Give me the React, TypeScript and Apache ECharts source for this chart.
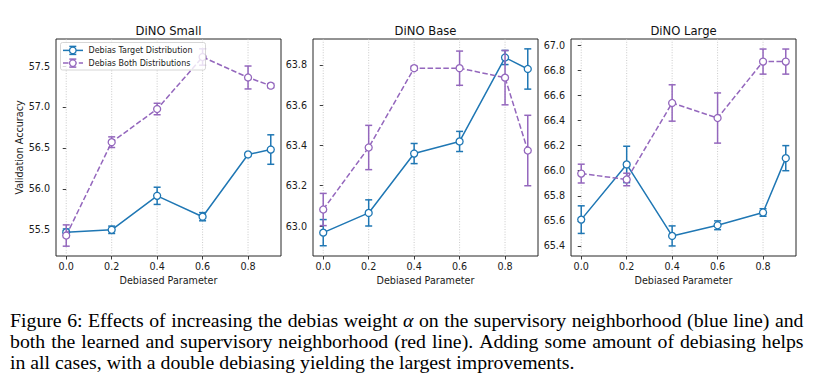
import React, { useEffect, useRef } from 'react';
import * as echarts from 'echarts';

// ---------- data ----------
const xValues = [0.0, 0.2, 0.4, 0.6, 0.8, 0.9];
const xTicks = [0, 0.2, 0.4, 0.6, 0.8];

const panelTitles = ['DiNO Small', 'DiNO Base', 'DiNO Large'];

const smallTarget = [55.47, 55.5, 55.915, 55.66, 56.42, 56.48];
const smallTargetErr = [0.04, 0.045, 0.105, 0.05, 0.01, 0.18];
const smallBoth = [55.43, 56.57, 56.975, 57.61, 57.36, 57.26];
const smallBothErr = [0.13, 0.065, 0.07, 0.1, 0.14, 0.025];

const baseTarget = [62.967, 63.065, 63.36, 63.42, 63.837, 63.78];
const baseTargetErr = [0.065, 0.065, 0.05, 0.05, 0.035, 0.1];
const baseBoth = [63.082, 63.39, 63.784, 63.784, 63.737, 63.375];
const baseBothErr = [0.08, 0.11, 0.01, 0.085, 0.135, 0.175];

const largeTarget = [65.61, 66.05, 65.48, 65.565, 65.667, 66.1];
const largeTargetErr = [0.11, 0.145, 0.08, 0.035, 0.03, 0.1];
const largeBoth = [65.977, 65.93, 66.54, 66.42, 66.87, 66.87];
const largeBothErr = [0.075, 0.05, 0.145, 0.2, 0.1, 0.1];

const smallYTicks = [55.5, 56.0, 56.5, 57.0, 57.5];
const baseYTicks = [63.0, 63.2, 63.4, 63.6, 63.8];
const largeYTicks = [65.4, 65.6, 65.8, 66.0, 66.2, 66.4, 66.6, 66.8, 67.0];

const yMins = [55.18, 62.851, 65.32];
const yMaxs = [57.83, 63.929, 67.05];
const xMin = -0.045;
const xMax = 0.945;

const seriesNames = ['Debias Target Distribution', 'Debias Both Distributions'];

const captionLines = [
  'Figure 6: Effects of increasing the debias weight α on the supervisory neighborhood (blue line) and',
  'both the learned and supervisory neighborhood (red line).  Adding some amount of debiasing helps',
  'in all cases, with a double debiasing yielding the largest improvements.',
];
const captionJustify = [true, true, false];

// ---------- styling ----------
const BLUE = '#1f77b4';
const PURPLE = '#9467bd';
const FONT = '"DejaVu Sans", sans-serif';
const SERIF = '"Liberation Serif", "Times New Roman", serif';
const gridLefts = [56, 313, 571];
const gridTop = 39;
const gridW = 225;
const gridH = 217;

export default function App() {
  const ref = useRef<HTMLDivElement>(null);

  useEffect(() => {
    if (!ref.current) return;
    const chart = echarts.init(ref.current, null, { renderer: 'svg' });

    const panels = [
      { t: smallTarget, te: smallTargetErr, b: smallBoth, be: smallBothErr, yt: smallYTicks },
      { t: baseTarget, te: baseTargetErr, b: baseBoth, be: baseBothErr, yt: baseYTicks },
      { t: largeTarget, te: largeTargetErr, b: largeBoth, be: largeBothErr, yt: largeYTicks },
    ];

    const grids: any[] = [];
    const xAxes: any[] = [];
    const yAxes: any[] = [];
    const series: any[] = [];
    const graphics: any[] = [];

    const errRender = (color: string) => (params: any, api: any) => {
      const x = api.value(0);
      const lo = api.value(1);
      const hi = api.value(2);
      const p1 = api.coord([x, lo]);
      const p2 = api.coord([x, hi]);
      const cap = 3.5;
      const style = { stroke: color, lineWidth: 1.5, fill: 'none' };
      return {
        type: 'group',
        children: [
          { type: 'line', shape: { x1: p1[0], y1: p1[1], x2: p2[0], y2: p2[1] }, style },
          { type: 'line', shape: { x1: p1[0] - cap, y1: p1[1], x2: p1[0] + cap, y2: p1[1] }, style },
          { type: 'line', shape: { x1: p2[0] - cap, y1: p2[1], x2: p2[0] + cap, y2: p2[1] }, style },
        ],
      };
    };

    panels.forEach((p, i) => {
      grids.push({
        left: gridLefts[i],
        top: gridTop,
        width: gridW,
        height: gridH,
        show: true,
        borderColor: '#262626',
        borderWidth: 1,
        backgroundColor: 'transparent',
      });
      xAxes.push({
        type: 'value',
        gridIndex: i,
        min: xMin,
        max: xMax,
        name: 'Debiased Parameter',
        nameLocation: 'middle',
        nameGap: 16,
        nameTextStyle: { fontFamily: FONT, fontSize: 9.6, color: '#1a1a1a' },
        axisLine: { show: false },
        axisTick: { show: true, length: 3.5, lineStyle: { color: '#262626', width: 0.9 }, customValues: xTicks },
        axisLabel: {
          show: true,
          margin: 5,
          fontFamily: FONT,
          fontSize: 9.6,
          color: '#1a1a1a',
          customValues: xTicks,
          formatter: (v: number) => v.toFixed(1),
        },
        splitLine: { show: false },
      });
      yAxes.push({
        type: 'value',
        gridIndex: i,
        min: yMins[i],
        max: yMaxs[i],
        name: i === 0 ? 'Validation Accuracy' : '',
        nameLocation: 'middle',
        nameGap: 30,
        nameTextStyle: { fontFamily: FONT, fontSize: 9.6, color: '#1a1a1a' },
        axisLine: { show: false },
        axisTick: { show: true, length: 3.5, lineStyle: { color: '#262626', width: 0.9 }, customValues: p.yt },
        axisLabel: {
          show: true,
          margin: 6,
          fontFamily: FONT,
          fontSize: 9.6,
          color: '#1a1a1a',
          customValues: p.yt,
          formatter: (v: number) => v.toFixed(1),
        },
        splitLine: { show: false },
      });

      // vertical dotted grid lines at x ticks
      series.push({
        type: 'custom',
        xAxisIndex: i,
        yAxisIndex: i,
        z: 1,
        silent: true,
        data: xTicks.map((x) => [x]),
        renderItem: (params: any, api: any) => {
          const x = api.value(0);
          const a = api.coord([x, yMins[i]]);
          const b = api.coord([x, yMaxs[i]]);
          return {
            type: 'line',
            shape: { x1: a[0], y1: a[1], x2: b[0], y2: b[1] },
            style: { stroke: '#c4c4c4', lineWidth: 0.9, lineDash: [1, 1.6] },
          };
        },
      });

      const defs = [
        { v: p.t, e: p.te, color: BLUE, dash: 'solid' as any, name: seriesNames[0], z: 2 },
        { v: p.b, e: p.be, color: PURPLE, dash: [5.5, 2.4] as any, name: seriesNames[1], z: 4 },
      ];
      defs.forEach((d) => {
        series.push({
          type: 'custom',
          name: d.name,
          xAxisIndex: i,
          yAxisIndex: i,
          z: d.z,
          silent: true,
          encode: { x: 0, y: [1, 2] },
          data: xValues.map((x, k) => [x, d.v[k] - d.e[k], d.v[k] + d.e[k]]),
          renderItem: errRender(d.color),
        });
        series.push({
          type: 'line',
          name: d.name,
          xAxisIndex: i,
          yAxisIndex: i,
          z: d.z + 1,
          data: xValues.map((x, k) => [x, d.v[k]]),
          symbol: 'circle',
          symbolSize: 7,
          showSymbol: true,
          lineStyle: { color: d.color, width: 1.5, type: d.dash },
          itemStyle: { color: '#ffffff', borderColor: d.color, borderWidth: 1.3 },
          emphasis: { disabled: true },
        });
      });

      graphics.push({
        type: 'text',
        x: gridLefts[i] + gridW / 2,
        y: 30.5,
        style: {
          text: panelTitles[i],
          fontFamily: FONT,
          fontSize: 11.6,
          fill: '#111',
          align: 'center',
          verticalAlign: 'middle',
        },
      });
    });

    // legend (drawn in panel 1, upper left)
    const lg: any[] = [];
    lg.push({
      type: 'rect',
      shape: { x: 60.5, y: 42.5, width: 145, height: 27.5, r: 2 },
      style: { fill: 'rgba(255,255,255,0.8)', stroke: '#cccccc', lineWidth: 0.8 },
      z: 100,
    });
    const rows = [
      { y: 50.4, color: BLUE, dash: null as any, label: seriesNames[0] },
      { y: 63.1, color: PURPLE, dash: [5.5, 2.4], label: seriesNames[1] },
    ];
    rows.forEach((r) => {
      const cx = 72.8;
      const st = { stroke: r.color, lineWidth: 1.5, fill: 'none' };
      lg.push({ type: 'line', z: 101, shape: { x1: 63, y1: r.y, x2: 83, y2: r.y }, style: { ...st, lineDash: r.dash } });
      lg.push({ type: 'line', z: 101, shape: { x1: cx, y1: r.y - 4, x2: cx, y2: r.y + 4 }, style: st });
      lg.push({ type: 'line', z: 101, shape: { x1: cx - 3.5, y1: r.y - 4, x2: cx + 3.5, y2: r.y - 4 }, style: st });
      lg.push({ type: 'line', z: 101, shape: { x1: cx - 3.5, y1: r.y + 4, x2: cx + 3.5, y2: r.y + 4 }, style: st });
      lg.push({ type: 'circle', z: 102, shape: { cx, cy: r.y, r: 3.3 }, style: { fill: '#fff', stroke: r.color, lineWidth: 1.3 } });
      lg.push({
        type: 'text',
        z: 102,
        x: 88.5,
        y: r.y,
        style: { text: r.label, fontFamily: FONT, fontSize: 8, fill: '#1a1a1a', align: 'left', verticalAlign: 'middle' },
      });
    });
    graphics.push(...lg);

    // caption (justified like the paper)
    const fs = 19.8;
    const left = 10;
    const right = 803.5;
    const lineYs = [320, 341, 362];
    const cv = document.createElement('canvas').getContext('2d') as CanvasRenderingContext2D;
    const measure = (t: string, italic: boolean) => {
      cv.font = `${italic ? 'italic ' : ''}${fs}px "Liberation Serif"`;
      return cv.measureText(t).width;
    };
    captionLines.forEach((line, li) => {
      const words = line.split(/\s+/);
      const ws = words.map((w) => measure(w, w === 'α'));
      const total = ws.reduce((a, b) => a + b, 0);
      let gap = captionJustify[li] ? (right - left - total) / (words.length - 1) : measure(' ', false);
      if (gap < 2) gap = 2;
      let x = left;
      words.forEach((w, k) => {
        graphics.push({
          type: 'text',
          x,
          y: lineYs[li],
          style: {
            text: w,
            fontFamily: SERIF,
            fontSize: fs,
            fontStyle: w === 'α' ? 'italic' : 'normal',
            fill: '#000',
            align: 'left',
            verticalAlign: 'middle',
          },
        });
        x += ws[k] + gap;
      });
    });

    chart.setOption({
      animation: false,
      backgroundColor: '#ffffff',
      grid: grids,
      xAxis: xAxes,
      yAxis: yAxes,
      series,
      graphic: { elements: graphics },
    });

    return () => chart.dispose();
  }, []);

  return (
    <div
      ref={ref}
      style={{ position: 'fixed', left: 0, top: 0, width: 814, height: 378, background: '#fff' }}
    />
  );
}
